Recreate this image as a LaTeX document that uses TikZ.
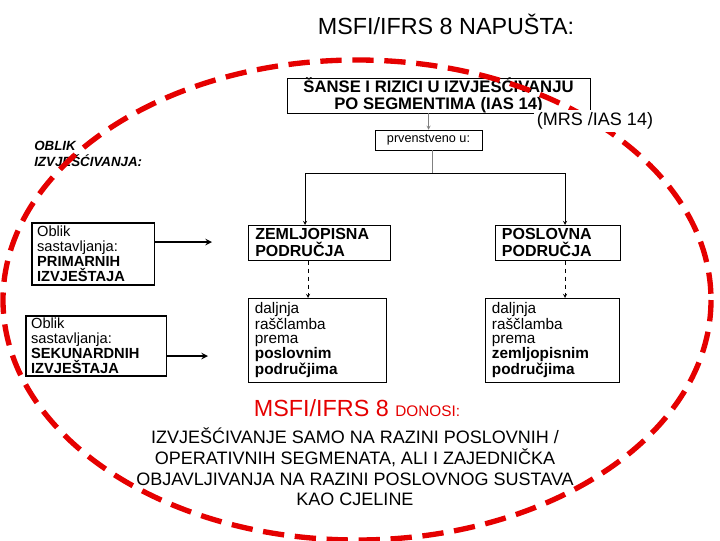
\documentclass[tikz,border=0pt]{standalone}
\usepackage{fontspec}
\setmainfont{Liberation Sans}
\begin{document}
\begin{tikzpicture}[x=0.75pt,y=-0.75pt,
 bx/.style={draw,thin,inner sep=0pt,inner xsep=5pt,align=left,anchor=north west},
 sh/.style={draw,line width=1.2pt,inner sep=0pt,inner xsep=4pt,align=left,anchor=north west},
 ar/.style={-stealth,thin}]
\useasboundingbox (0,0) rectangle (720,540);
\node[font=\fontsize{17.5}{20}\selectfont] (title) at (446,24) {MSFI/IFRS 8 NAPUŠTA:};
\node[bx,minimum width=303*0.75pt,minimum height=35*0.75pt,align=center,anchor=center,font=\fontsize{12.5}{12.5}\selectfont\bfseries] (top) at (438.5,95.5) {ŠANSE I RIZICI U IZVJEŠĆIVANJU\\PO SEGMENTIMA (IAS 14)};
\node[bx,minimum width=107*0.75pt,minimum height=20*0.75pt,anchor=center,font=\fontsize{9.5}{10}\selectfont] (pr) at (428.5,140) {prvenstveno u:};
\node[bx,minimum width=142*0.75pt,minimum height=35*0.75pt,text width=128*0.75pt,font=\fontsize{12}{12.5}\selectfont\bfseries] (z) at (248,225) {ZEMLJOPISNA\\PODRUČJA};
\node[bx,minimum width=125*0.75pt,minimum height=35*0.75pt,text width=112*0.75pt,font=\fontsize{12}{12.5}\selectfont\bfseries] (p) at (495,225) {POSLOVNA\\PODRUČJA};
\node[bx,inner ysep=3pt,minimum width=137*0.75pt,minimum height=79*0.75pt,text width=125*0.75pt,font=\fontsize{11.5}{10.6}\selectfont] (zl) at (248,298) {daljnja\\raščlamba\\prema\\\textbf{poslovnim}\\\textbf{područjima}};
\node[bx,inner ysep=3pt,minimum width=133*0.75pt,minimum height=79*0.75pt,text width=121*0.75pt,font=\fontsize{11.5}{10.6}\selectfont] (pl) at (485,298) {daljnja\\raščlamba\\prema\\\textbf{zemljopisnim}\\\textbf{područjima}};
\node[sh,inner ysep=1pt,minimum width=120*0.75pt,minimum height=62*0.75pt,text width=112*0.75pt,font=\fontsize{11}{11.25}\selectfont] (o1) at (31,222) {Oblik\\sastavljanja:\\\textbf{PRIMARNIH}\\\textbf{IZVJEŠTAJA}};
\node[sh,inner ysep=1pt,minimum width=138*0.75pt,minimum height=60*0.75pt,text width=130*0.75pt,font=\fontsize{11}{11.25}\selectfont] (o2) at (25,315) {Oblik\\sastavljanja:\\\textbf{SEKUNARDNIH}\\\textbf{IZVJEŠTAJA}};
\coordinate (a1) at (212,242);
\coordinate (a2) at (208,356);
\draw[-stealth,line width=1.2pt] (o1.east|-a1) -- (a1);
\draw[-stealth,line width=1.2pt] (o2.east|-a2) -- (a2);
\node[anchor=west,align=left,inner sep=0pt,font=\fontsize{10}{12}\selectfont\itshape\bfseries] (ob) at (34,154) {OBLIK\\IZVJEŠĆIVANJA:};
\draw[ar,gray] (top.south-|pr.north) -- (pr.north);
\coordinate (j) at (432,173);
\draw[gray] (pr.south-|j) -- (j);
\draw[ar] (j) -| (z.north-|305,0);
\draw[ar] (j) -| (p.north-|565,0);
\draw[ar,dashed] (z.south-|308,0) -- (zl.north-|308,0);
\draw[ar,dashed] (p.south-|565,0) -- (pl.north-|565,0);
\draw[red!90!black,line width=4pt,dash pattern=on 16pt off 8pt] (357,300) ellipse [x radius=354,y radius=240];
\node[fill=white,inner sep=2pt,font=\fontsize{13.5}{15}\selectfont] (mrs) at (595,121) {(MRS /IAS 14)};
\node[red!90!black] (don) at (357,408) {\fontsize{17.5}{20}\selectfont MSFI/IFRS 8 \fontsize{11.5}{12}\selectfont DONOSI:};
\node[align=center,font=\fontsize{13.5}{15.5}\selectfont] (bt) at (355,467) {IZVJEŠĆIVANJE SAMO NA RAZINI POSLOVNIH /\\OPERATIVNIH SEGMENATA, ALI I ZAJEDNIČKA\\OBJAVLJIVANJA NA RAZINI POSLOVNOG SUSTAVA\\KAO CJELINE};
\end{tikzpicture}
\end{document}
